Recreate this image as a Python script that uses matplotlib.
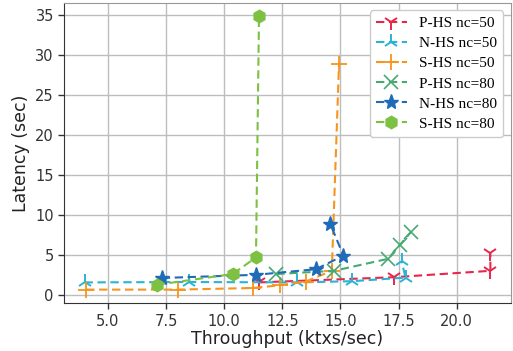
import matplotlib
matplotlib.use("Agg")
import matplotlib.pyplot as plt

labels = ["P-HS nc=50", "N-HS nc=50", "S-HS nc=50", "P-HS nc=80", "N-HS nc=80", "S-HS nc=80"]

phs50_x = [11.5, 17.3, 21.45, 21.45]
phs50_y = [1.55, 2.2, 3.0, 5.2]

nhs50_x = [4.0, 8.5, 13.15, 15.5, 17.8, 17.63]
nhs50_y = [1.55, 1.6, 1.55, 1.7, 2.15, 4.25]

shs50_x = [4.07, 8.0, 11.25, 12.41, 13.5, 14.63, 14.94]
shs50_y = [0.65, 0.65, 0.85, 1.2, 1.65, 3.0, 28.8]

phs80_x = [12.25, 14.73, 17.05, 17.55, 18.02]
phs80_y = [2.6, 3.0, 4.5, 6.2, 7.8]

nhs80_x = [7.32, 11.37, 13.95, 15.13, 14.56]
nhs80_y = [2.1, 2.5, 3.2, 4.9, 8.9]

shs80_x = [7.1, 10.37, 11.37, 11.5]
shs80_y = [1.25, 2.6, 4.67, 34.8]

series = [
    (phs50_x, phs50_y, "#e8264b", "1", 11, 1.4),
    (nhs50_x, nhs50_y, "#2bb3d6", "2", 11, 1.4),
    (shs50_x, shs50_y, "#f7941d", "+", 12, 1.3),
    (phs80_x, phs80_y, "#46aa72", "x", 10, 1.2),
    (nhs80_x, nhs80_y, "#1f6bb8", "*", 11, 1.0),
    (shs80_x, shs80_y, "#7cc142", "h", 9, 1.0),
]

fig = plt.figure(figsize=(5.13, 3.51), dpi=100)
ax = fig.add_axes([0.1253, 0.136, 0.8702, 0.856])

for (xs, ys, c, m, ms, mew), lab in zip(series, labels):
    ax.plot(xs, ys, linestyle="--", color=c, marker=m, markersize=ms,
            markeredgewidth=mew, linewidth=1.5, label=lab, dashes=(4, 2.2))

ax.set_axisbelow(True)
ax.grid(True, color="#bdbdbd", linewidth=1.0)
ax.set_xticks([5.0, 7.5, 10.0, 12.5, 15.0, 17.5, 20.0])
ax.set_yticks([0, 5, 10, 15, 20, 25, 30, 35])
ax.tick_params(axis="both", labelsize=10.5, colors="#333333", length=4, width=1, direction="out")
for s in ["top", "right"]:
    ax.spines[s].set_color("#999999")
for s in ["left", "bottom"]:
    ax.spines[s].set_color("#333333")
ax.set_xlabel("Throughput (ktxs/sec)", fontsize=12.5, color="#222222", labelpad=1)
ax.set_ylabel("Latency (sec)", fontsize=12.5, color="#222222", labelpad=4)

leg = ax.legend(loc="upper right", prop={"family": "Liberation Serif", "size": 11},
                frameon=True, fancybox=True, edgecolor="#cccccc", framealpha=1.0,
                handlelength=2.0, borderpad=0.4, labelspacing=0.42)

fig.savefig("out.png", dpi=100)
